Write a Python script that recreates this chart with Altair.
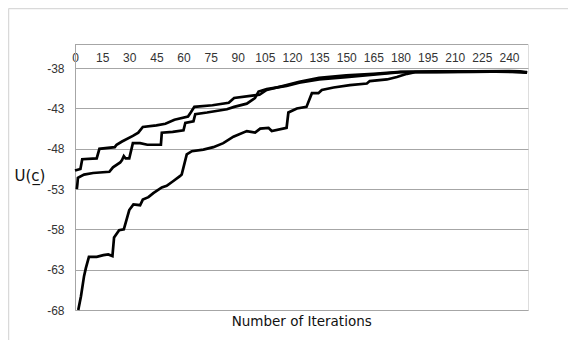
import altair as alt
import pandas as pd

# Series
a_x = [0, 3, 4, 12, 13.5, 22, 23, 26, 32, 35, 37.5, 45, 50, 55, 62.5, 64, 66, 76, 85, 88, 98, 102, 106, 117, 124, 135, 150, 165, 180, 200, 220, 240, 246, 250]
a_y = [-50.7, -50.5, -49.3, -49.2, -48.0, -47.8, -47.5, -47.1, -46.4, -46.0, -45.3, -45.1, -44.9, -44.4, -44.0, -43.5, -42.8, -42.6, -42.3, -41.7, -41.4, -41.3, -40.7, -40.1, -39.7, -39.2, -38.9, -38.7, -38.45, -38.4, -38.4, -38.35, -38.4, -38.55]

b_x = [1, 1.3, 1.6, 5, 10, 19, 21, 25, 26, 27, 28, 30, 32, 36, 40, 47.5, 48, 54, 60, 61, 65.5, 66.5, 73, 84, 88, 95, 99.5, 101.5, 106, 117, 124, 135, 150, 165, 180, 200, 225, 250]
b_y = [-53.0, -52.4, -51.6, -51.2, -51.0, -50.85, -50.3, -49.7, -49.4, -48.9, -49.2, -49.2, -47.3, -47.3, -47.5, -47.5, -46.0, -45.9, -45.7, -44.8, -44.6, -43.7, -43.5, -43.1, -42.8, -42.4, -41.7, -40.9, -40.6, -40.2, -39.8, -39.4, -39.1, -38.8, -38.5, -38.45, -38.4, -38.5]

c_x = [1.8, 3.3, 5, 6, 7.7, 12, 15.7, 18.4, 20.7, 21.6, 24.4, 27, 30, 32.3, 36, 37.5, 40.6, 43.3, 48, 50.7, 54.4, 58, 59, 61.8, 64.6, 71, 76.5, 82, 87.6, 95, 99.6, 102.4, 107, 108.8, 117, 118, 122.7, 128, 131, 134.6, 136.5, 143, 152, 161.4, 163, 172.5, 178, 183.6, 188, 200, 220, 240, 250]
c_y = [-68.0, -66.3, -63.8, -62.8, -61.4, -61.4, -61.2, -61.1, -61.3, -59.0, -58.1, -58.0, -55.6, -54.9, -55.0, -54.3, -54.0, -53.5, -52.8, -52.6, -52.0, -51.4, -51.2, -48.7, -48.3, -48.1, -47.8, -47.3, -46.5, -45.8, -46.0, -45.5, -45.4, -45.8, -45.4, -43.5, -43.0, -42.8, -41.1, -41.1, -40.7, -40.4, -40.1, -39.9, -39.6, -39.4, -39.1, -38.7, -38.5, -38.5, -38.45, -38.4, -38.55]

x_ticks = list(range(0, 241, 15))
y_ticks = [-68, -63, -58, -53, -48, -43, -38]

rows = []
for name, xs, ys in (("A", a_x, a_y), ("B", b_x, b_y), ("C", c_x, c_y)):
    for i, (xv, yv) in enumerate(zip(xs, ys)):
        rows.append({"series": name, "order": i, "iter": xv, "u": yv})
df = pd.DataFrame(rows)

W, H = 453, 266
xscale = alt.Scale(domain=[0, 250.5], nice=False, zero=False)
yscale = alt.Scale(domain=[-68, -35], nice=False, zero=False)

lines = alt.Chart(df).mark_line(color="black", strokeWidth=2.7, strokeJoin="miter").encode(
    x=alt.X("iter:Q", scale=xscale,
            axis=alt.Axis(orient="top", values=x_ticks, title=None, grid=False,
                          domain=False, ticks=False, labelFlush=False,
                          offset=-24.7, labelPadding=4,
                          labelFont="Liberation Sans", labelFontSize=12,
                          labelColor="#333333")),
    y=alt.Y("u:Q", scale=yscale,
            axis=alt.Axis(values=y_ticks, title=None, grid=True, gridColor="#a6a6a6",
                          gridWidth=1, domain=True, domainColor="#a6a6a6",
                          ticks=False, labelPadding=11,
                          labelExpr="'' + datum.value",
                          labelFont="Liberation Sans", labelFontSize=12,
                          labelColor="#333333")),
    detail="series:N",
    order="order:Q",
)

top_rule = alt.Chart().mark_rule(color="#a6a6a6", strokeWidth=1).encode(
    x=alt.value(0), x2=alt.value(W), y=alt.value(0.5))

frame_top = alt.Chart().mark_rule(color="#d9d9d9", strokeWidth=1.5).encode(
    x=alt.value(-66.5), x2=alt.value(W + 40), y=alt.value(-35.5))
frame_left = alt.Chart().mark_rule(color="#d9d9d9", strokeWidth=1.5).encode(
    x=alt.value(-66.5), y=alt.value(-35.5), y2=alt.value(H + 30))

ytitle = alt.Chart().mark_text(text="U(c\u0332)", font="DejaVu Sans", fontSize=15,
                               color="#111111", align="center", baseline="middle").encode(
    x=alt.value(-45), y=alt.value(132))

xtitle = alt.Chart().mark_text(text="Number of Iterations", font="DejaVu Sans", fontSize=13.5,
                               color="#111111", align="center", baseline="middle").encode(
    x=alt.value(226.7), y=alt.value(278))

chart = alt.layer(frame_top, frame_left, top_rule, lines, ytitle, xtitle).properties(
    width=W, height=H,
    autosize=alt.AutoSizeParams(type="none"),
    padding={"left": 67, "top": 36, "right": 40, "bottom": 30},
).configure_view(stroke=None).configure(background="white")

chart.save("out.html", embed_options={"renderer": "svg", "actions": False})
